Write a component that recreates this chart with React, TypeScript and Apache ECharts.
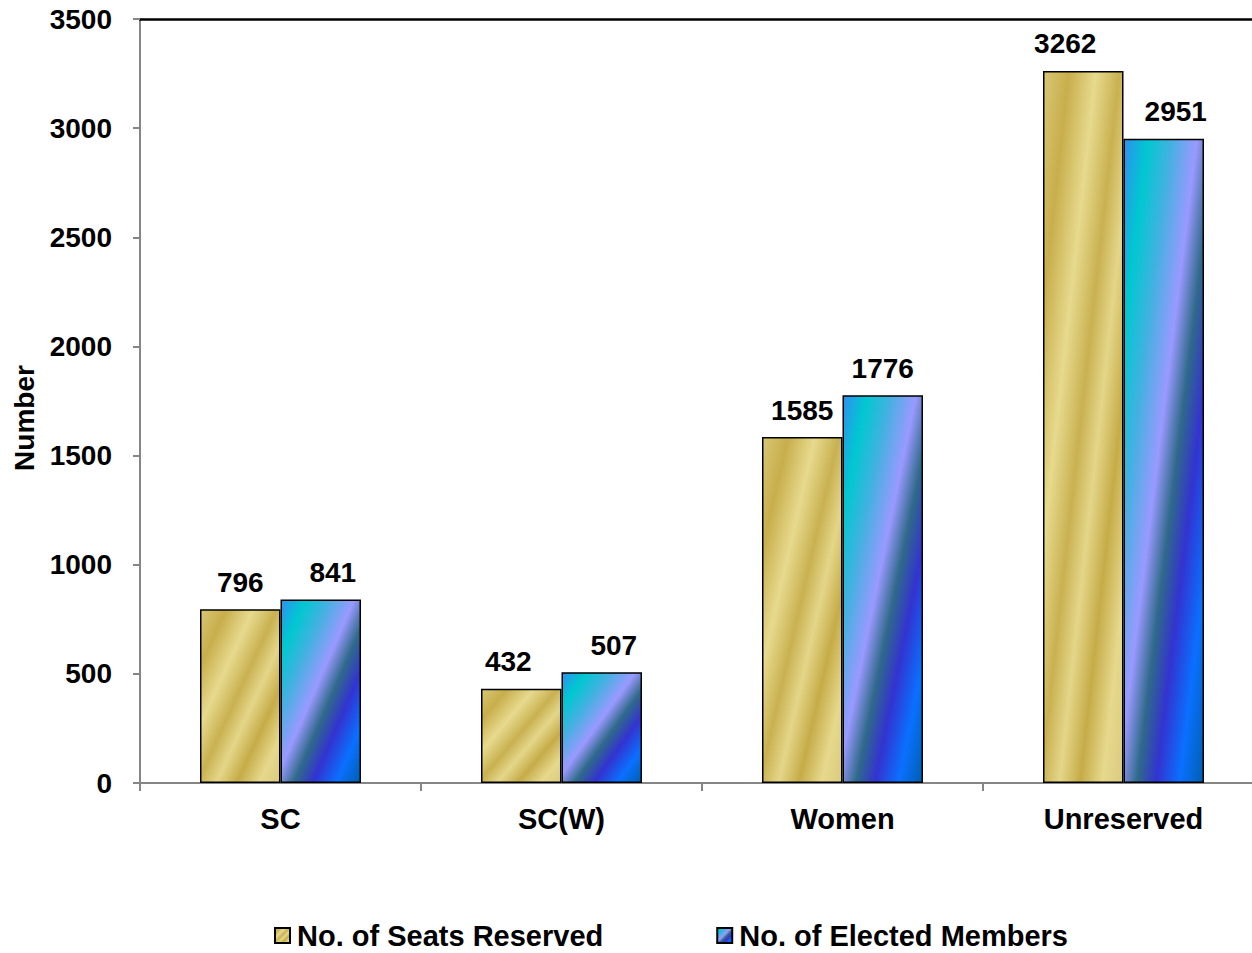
import React, { useEffect, useRef } from "react";
import * as echarts from "echarts";

const categories = ["SC", "SC(W)", "Women", "Unreserved"];
const seatsReserved = [796, 432, 1585, 3262];
const electedMembers = [841, 507, 1776, 2951];
const seriesNames = ["No. of Seats Reserved", "No. of Elected Members"];
const yMax = 3500;
const yInterval = 500;

// horizontal nudges of the value labels (style only)
const seatsLabelDx = [0, -13, 0, -18];
const electedLabelDx = [12, 12, 0, 12];

const FONT = "'Liberation Sans', Arial, sans-serif";

const goldFill = new echarts.graphic.LinearGradient(0, 0, 1, 1, [
  { offset: 0, color: "#d9c776" },
  { offset: 0.16, color: "#c8ae4c" },
  { offset: 0.33, color: "#e7da8e" },
  { offset: 0.48, color: "#c9b151" },
  { offset: 0.6, color: "#e4d689" },
  { offset: 0.73, color: "#c6ac48" },
  { offset: 0.87, color: "#e6d88c" },
  { offset: 1, color: "#dacb7e" },
]);

const blueFill = new echarts.graphic.LinearGradient(0, 0, 1, 1, [
  { offset: 0, color: "#2f8ff0" },
  { offset: 0.15, color: "#00c8d0" },
  { offset: 0.3, color: "#45b0e2" },
  { offset: 0.46, color: "#9a99ff" },
  { offset: 0.58, color: "#2f6a8a" },
  { offset: 0.7, color: "#3333d0" },
  { offset: 0.85, color: "#0a70ff" },
  { offset: 1, color: "#005fb0" },
]);

export default function App() {
  const ref = useRef<HTMLDivElement>(null);

  useEffect(() => {
    document.body.style.margin = "0";
    if (!ref.current) return;
    const chart = echarts.init(ref.current, undefined, { renderer: "svg" });

    const labelStyle = {
      show: true,
      position: "top" as const,
      distance: 13,
      fontFamily: FONT,
      fontSize: 28,
      fontWeight: "bold" as const,
      color: "#000",
    };

    chart.setOption({
      animation: false,
      backgroundColor: "#fff",
      textStyle: { fontFamily: FONT },
      grid: { left: 140, top: 19, width: 1124, bottom: 170, containLabel: false, outerBoundsMode: "none" },
      legend: {
        left: 274,
        top: 921,
        padding: 0,
        itemWidth: 15,
        itemHeight: 15,
        itemGap: 113,
        icon: "rect",
        textStyle: { fontFamily: FONT, fontSize: 29, fontWeight: "bold", color: "#000", padding: [0, 0, 0, 2] },
        data: seriesNames,
      },
      xAxis: [
        {
          type: "category",
          data: categories,
          boundaryGap: true,
          axisLine: { lineStyle: { color: "#868686", width: 2 } },
          axisTick: { show: true, length: 8, lineStyle: { color: "#868686", width: 2 } },
          axisLabel: { margin: 21, fontFamily: FONT, fontSize: 29, fontWeight: "bold", color: "#000" },
        },
        {
          type: "category",
          position: "top",
          data: categories,
          axisLine: { show: true, lineStyle: { color: "#000", width: 2.5 } },
          axisTick: { show: false },
          axisLabel: { show: false },
        },
      ],
      yAxis: {
        type: "value",
        min: 0,
        max: yMax,
        interval: yInterval,
        name: "Number",
        nameLocation: "middle",
        nameGap: 102,
        nameTextStyle: { fontFamily: FONT, fontSize: 28, fontWeight: "bold", color: "#000", padding: [0, 34, 0, 0] },
        axisLine: { show: true, lineStyle: { color: "#868686", width: 2 } },
        axisTick: { show: true, length: 7, lineStyle: { color: "#868686", width: 2 } },
        splitLine: { show: false },
        axisLabel: {
          margin: 28,
          fontFamily: FONT,
          fontSize: 28,
          fontWeight: "bold",
          color: "#000",
          formatter: (v: number) => String(v),
        },
      },
      series: [
        {
          name: seriesNames[0],
          type: "bar",
          xAxisIndex: 0,
          barGap: "0%",
          barCategoryGap: "42.7%",
          itemStyle: { color: goldFill, borderColor: "#000", borderWidth: 1.5 },
          label: labelStyle,
          data: seatsReserved.map((v, i) => ({ value: v, label: { offset: [seatsLabelDx[i], 0] } })),
        },
        {
          name: seriesNames[1],
          type: "bar",
          xAxisIndex: 0,
          barGap: "0%",
          barCategoryGap: "42.7%",
          itemStyle: { color: blueFill, borderColor: "#000", borderWidth: 1.5 },
          label: labelStyle,
          data: electedMembers.map((v, i) => ({ value: v, label: { offset: [electedLabelDx[i], 0] } })),
        },
      ],
    });

    return () => chart.dispose();
  }, []);

  return <div ref={ref} style={{ width: 1252, height: 953 }} />;
}
